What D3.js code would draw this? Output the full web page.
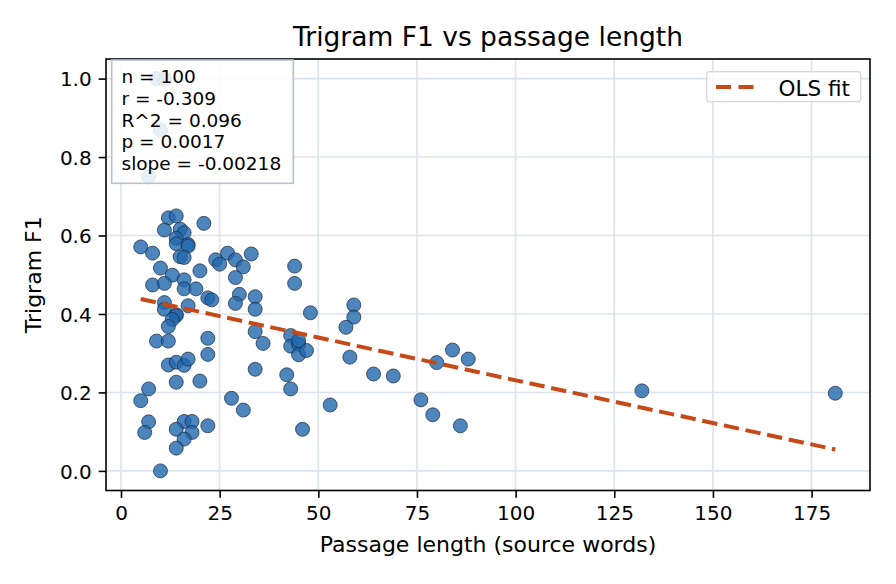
<!DOCTYPE html>
<html>
<head>
<meta charset="utf-8">
<script src="https://cdn.jsdelivr.net/npm/d3@7"></script>
<style>
  html, body { margin: 0; padding: 0; background: #ffffff; }
  svg { display: block; font-family: "DejaVu Sans", sans-serif; }
</style>
</head>
<body>
<svg id="chart" width="896" height="584"></svg>
<script>
// ---- data ----
const passageLength = [9, 11, 10, 7,
  12, 14, 21, 11, 15, 16, 14, 14, 17, 17, 5, 8, 15, 16, 27, 24,
  25, 29, 33, 31, 29, 44, 44, 10, 13, 20, 16, 8, 11, 16, 19, 30,
  29, 34, 22, 23, 11, 11, 17, 34, 14, 14, 13, 12, 9, 12, 22, 34,
  36, 43, 43, 45, 45, 47, 45, 48, 59, 59, 57, 58, 64, 69, 80, 84,
  88, 42, 43, 53, 46, 76, 79, 86, 132, 181, 12, 14, 16, 17, 22, 14,
  20, 7, 5, 28, 31, 7, 6, 16, 18, 14, 18, 16, 22, 14, 10, 34];
const trigramF1 = [1.0, 0.998, 0.869, 0.75,
  0.645, 0.650, 0.631, 0.614, 0.616, 0.607, 0.593, 0.579, 0.577, 0.573, 0.571, 0.555, 0.546, 0.544, 0.555, 0.538,
  0.527, 0.538, 0.553, 0.520, 0.493, 0.522, 0.478, 0.517, 0.499, 0.510, 0.487, 0.474, 0.478, 0.464, 0.464, 0.450,
  0.427, 0.444, 0.441, 0.436, 0.429, 0.412, 0.421, 0.412, 0.398, 0.396, 0.386, 0.368, 0.331, 0.331, 0.338, 0.355,
  0.325, 0.345, 0.318, 0.323, 0.296, 0.307, 0.332, 0.403, 0.423, 0.392, 0.366, 0.290, 0.247, 0.242, 0.276, 0.308,
  0.285, 0.245, 0.209, 0.168, 0.106, 0.181, 0.143, 0.115, 0.204, 0.198, 0.270, 0.277, 0.269, 0.285, 0.297, 0.226,
  0.229, 0.209, 0.179, 0.185, 0.155, 0.125, 0.098, 0.126, 0.126, 0.106, 0.098, 0.081, 0.115, 0.058, 0.0, 0.259];
const xTicks = [0, 25, 50, 75, 100, 125, 150, 175];
const yTicks = [0.0, 0.2, 0.4, 0.6, 0.8, 1.0];
const yTickLabels = ["0.0", "0.2", "0.4", "0.6", "0.8", "1.0"];
const fitSlope = -0.00218;
const fitIntercept = 0.449;
const statsLines = ["n = 100", "r = -0.309", "R^2 = 0.096", "p = 0.0017", "slope = -0.00218"];
const legendLabel = "OLS fit";

// ---- layout ----
const W = 896, H = 584;
const L = 106, R = 870, T = 59, B = 490.5;
const svg = d3.select("#chart");

const xmin = d3.min(passageLength), xmax = d3.max(passageLength);
const xpad = (xmax - xmin) * 0.05;
const x = d3.scaleLinear().domain([xmin - xpad, xmax + xpad]).range([L, R]);
const y = d3.scaleLinear().domain([-0.05, 1.05]).range([B, T]);

// grid
const grid = svg.append("g");
grid.selectAll("line.gx").data(xTicks).join("line")
  .attr("x1", d => x(d)).attr("x2", d => x(d)).attr("y1", T).attr("y2", B)
  .attr("stroke", "#dde3eb").attr("stroke-width", 1.6);
grid.selectAll("line.gy").data(yTicks).join("line")
  .attr("y1", d => y(d)).attr("y2", d => y(d)).attr("x1", L).attr("x2", R)
  .attr("stroke", "#dde3eb").attr("stroke-width", 1.6);

// points
const pts = passageLength.map((d, i) => ({x: d, y: trigramF1[i]}));
svg.append("g").selectAll("circle").data(pts).join("circle")
  .attr("cx", d => x(d.x)).attr("cy", d => y(d.y)).attr("r", 7)
  .attr("fill", "#2166ac").attr("fill-opacity", 0.8)
  .attr("stroke", "#1b2a41").attr("stroke-opacity", 0.8).attr("stroke-width", 0.9);

// fit line
const fitX = [xmin, xmax];
svg.append("line")
  .attr("x1", x(fitX[0])).attr("y1", y(fitIntercept + fitSlope * fitX[0]))
  .attr("x2", x(fitX[1])).attr("y2", y(fitIntercept + fitSlope * fitX[1]))
  .attr("stroke", "#c64a18").attr("stroke-width", 4)
  .attr("stroke-dasharray", "15.4,6.7");

// axes
const fs = "20px";
const xAxis = d3.axisBottom(x).tickValues(xTicks).tickSize(7.3).tickPadding(7).tickFormat(d3.format("d"));
const gx = svg.append("g").attr("transform", `translate(0,${B})`).call(xAxis);
const yAxis = d3.axisLeft(y).tickValues(yTicks).tickSize(7.3).tickPadding(7).tickFormat((d, i) => yTickLabels[i]);
const gy = svg.append("g").attr("transform", `translate(${L},0)`).call(yAxis);
[gx, gy].forEach(g => {
  g.select(".domain").remove();
  g.selectAll(".tick line").attr("stroke", "#000").attr("stroke-width", 1.6);
  g.selectAll(".tick text").attr("fill", "#000").style("font-size", fs)
    .style("font-family", "'DejaVu Sans', sans-serif");
});
gx.selectAll(".tick text").attr("dy", "0.76em");
gy.selectAll(".tick text").attr("dy", "0.36em");

// spines
svg.append("rect").attr("x", L).attr("y", T).attr("width", R - L).attr("height", B - T)
  .attr("fill", "none").attr("stroke", "#000").attr("stroke-width", 1.6);

// stats box
svg.append("rect").attr("x", 111.7).attr("y", 60).attr("width", 181.6).attr("height", 123.3)
  .attr("fill", "#fff").attr("fill-opacity", 0.86)
  .attr("stroke", "#b7c2d0").attr("stroke-width", 1.6);
svg.append("g").selectAll("text").data(statsLines).join("text")
  .attr("x", 121.5).attr("y", (d, i) => 83.3 + i * 21.67)
  .style("font-size", "18.5px").attr("fill", "#000").text(d => d);

// legend
const lg = svg.append("g");
lg.append("rect").attr("x", 706.7).attr("y", 71.7).attr("width", 154).attr("height", 30).attr("rx", 3)
  .attr("fill", "#fff").attr("fill-opacity", 0.8).attr("stroke", "#d6d6d6").attr("stroke-width", 1.3);
lg.append("line").attr("x1", 716).attr("x2", 753.5).attr("y1", 87).attr("y2", 87)
  .attr("stroke", "#c64a18").attr("stroke-width", 4).attr("stroke-dasharray", "15,7.5");
lg.append("text").attr("x", 778.5).attr("y", 95.5).style("font-size", "21.5px").attr("fill", "#000").text(legendLabel);

// title & labels
svg.append("text").attr("x", (L + R) / 2).attr("y", 46).attr("text-anchor", "middle")
  .style("font-size", "26.5px").attr("fill", "#000").text("Trigram F1 vs passage length");
svg.append("text").attr("x", (L + R) / 2).attr("y", 552).attr("text-anchor", "middle")
  .style("font-size", "22px").attr("fill", "#000").text("Passage length (source words)");
svg.append("text").attr("transform", `translate(41,${(T + B) / 2}) rotate(-90)`).attr("text-anchor", "middle")
  .style("font-size", "22px").attr("fill", "#000").text("Trigram F1");
</script>
</body>
</html>
